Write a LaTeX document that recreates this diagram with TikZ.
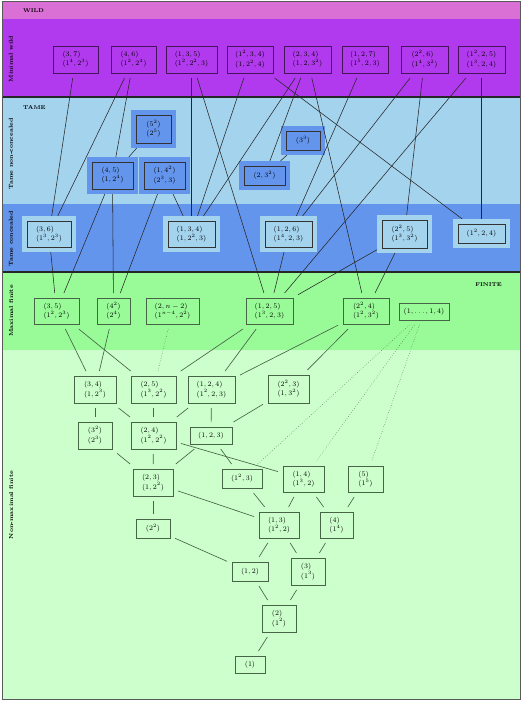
\documentclass[tikz,border=0pt]{standalone}
\definecolor{wpink}{RGB}{218,112,214}
\definecolor{wpurple}{RGB}{178,58,238}
\definecolor{tlight}{RGB}{164,211,238}
\definecolor{tblue}{RGB}{100,149,237}
\definecolor{fgreen}{RGB}{152,251,152}
\definecolor{flight}{RGB}{204,255,204}
\definecolor{fline}{RGB}{70,100,70}
\definecolor{wline}{RGB}{70,20,90}
\begin{document}
\begin{tikzpicture}[x=1pt,y=-1pt,
  base/.style={rectangle, inner sep=0pt, outer sep=5pt, align=left, font=\fontsize{6.8}{9.5}\selectfont, line width=0.7pt},
  wbox/.style={base, draw=wline, fill=wpurple},
  tnbox/.style={base, draw=black!80, fill=tblue, preaction={draw=tblue, fill=tblue, line width=10pt}},
  tcbox/.style={base, draw=black!80, fill=tlight, preaction={draw=tlight, fill=tlight, line width=10pt}},
  fbox/.style={base, draw=fline},
  tedge/.style={draw=black!85, line width=0.55pt},
  fedge/.style={draw=fline, line width=0.65pt},
  dedge/.style={draw=fline, line width=0.5pt, dotted},
  lab/.style={inner sep=0pt, font=\bfseries\fontsize{5.5}{6}\selectfont},
  vlab/.style={inner sep=0pt, rotate=90, font=\bfseries\fontsize{5.8}{6}\selectfont}
]
\useasboundingbox (0,0) rectangle (524,703);
% bands
\fill[wpink] (2.5,1.5) rectangle (520,19);
\fill[wpurple] (2.5,19) rectangle (520,97);
\fill[tlight] (2.5,97) rectangle (520,204);
\fill[tblue] (2.5,204) rectangle (520,272);
\fill[fgreen] (2.5,272) rectangle (520,350);
\fill[flight] (2.5,350) rectangle (520,699.5);
\draw[line width=1.2pt, black!85] (2.5,97) -- (520,97);
\draw[line width=1.2pt, black!85] (2.5,272) -- (520,272);
\draw[gray!70!black, line width=0.6pt] (2.5,1.5) rectangle (520,699.5);
% labels
\node[lab, anchor=west] (lwild) at (23,11) {WILD};
\node[lab, anchor=west] (ltame) at (23,108) {TAME};
\node[lab, anchor=east] (lfin) at (502,285) {FINITE};
\node[vlab] (lmw) at (11,59) {Minimal wild};
\node[vlab] (ltn) at (11,154) {Tame non-concealed};
\node[vlab] (ltc) at (11,239) {Tame concealed};
\node[vlab] (lmf) at (11,311) {Maximal finite};
\node[vlab] (lnf) at (11,505) {Non-maximal finite};
% minimal wild
\node[wbox, minimum width=45, minimum height=27] (n37) at (75.5,59.5) {$(3,7)$\\$(1^4,2^3)$};
\node[wbox, minimum width=45, minimum height=27] (n46) at (133.5,59.5) {$(4,6)$\\$(1^2,2^4)$};
\node[wbox, minimum width=51, minimum height=27] (n135) at (191.5,59.5) {$(1,3,5)$\\$(1^2,2^2,3)$};
\node[wbox, minimum width=46, minimum height=27] (n1234) at (250,59.5) {$(1^2,3,4)$\\$(1,2^2,4)$};
\node[wbox, minimum width=47, minimum height=27] (n234) at (307.5,59.5) {$(2,3,4)$\\$(1,2,3^2)$};
\node[wbox, minimum width=46, minimum height=27] (n127) at (365,59.5) {$(1,2,7)$\\$(1^5,2,3)$};
\node[wbox, minimum width=47, minimum height=27] (n226) at (424.5,59.5) {$(2^2,6)$\\$(1^4,3^2)$};
\node[wbox, minimum width=47, minimum height=27] (n1225) at (481.5,59.5) {$(1^2,2,5)$\\$(1^3,2,4)$};
% tame non-concealed
\node[tnbox, minimum width=35, minimum height=28] (n55) at (153.5,129) {$(5^2)$\\$(2^5)$};
\node[tnbox, minimum width=41, minimum height=27] (n45) at (112.5,175.5) {$(4,5)$\\$(1,2^4)$};
\node[tnbox, minimum width=41, minimum height=27] (n144) at (164.5,175.5) {$(1,4^2)$\\$(2^3,3)$};
\node[tnbox, minimum width=34, minimum height=19] (n333) at (303,140.5) {$(3^3)$};
\node[tnbox, minimum width=41, minimum height=19] (n233) at (264.5,175.5) {$(2,3^2)$};
% tame concealed
\node[tcbox, minimum width=44, minimum height=26] (n36) at (49,234) {$(3,6)$\\$(1^3,2^3)$};
\node[tcbox, minimum width=47, minimum height=26] (n134) at (191.5,234) {$(1,3,4)$\\$(1,2^2,3)$};
\node[tcbox, minimum width=47, minimum height=26] (n126) at (288.5,234) {$(1,2,6)$\\$(1^4,2,3)$};
\node[tcbox, minimum width=45, minimum height=28] (n225) at (404.5,234) {$(2^2,5)$\\$(1^3,3^2)$};
\node[tcbox, minimum width=47, minimum height=19] (n124) at (481.5,233.5) {$(1^2,2,4)$};
% maximal finite
\node[fbox, minimum width=45, minimum height=26] (n35) at (56.5,311) {$(3,5)$\\$(1^2,2^3)$};
\node[fbox, minimum width=33, minimum height=26] (n44) at (113.5,311) {$(4^2)$\\$(2^4)$};
\node[fbox, minimum width=53, minimum height=26] (n2n) at (172.5,311) {$(2,n-2)$\\$(1^{n-4},2^2)$};
\node[fbox, minimum width=47, minimum height=26] (n125) at (269.5,311) {$(1,2,5)$\\$(1^3,2,3)$};
\node[fbox, minimum width=46, minimum height=26] (n224) at (366,311) {$(2^2,4)$\\$(1^2,3^2)$};
\node[fbox, minimum width=50, minimum height=17] (n1114) at (424,311.5) {$(1,\ldots,1,4)$};
% non-maximal finite
\node[fbox, minimum width=42, minimum height=27] (n34) at (95,389.5) {$(3,4)$\\$(1,2^3)$};
\node[fbox, minimum width=45, minimum height=27] (n25) at (153.5,389.5) {$(2,5)$\\$(1^3,2^2)$};
\node[fbox, minimum width=47, minimum height=27] (n124f) at (211.5,389.5) {$(1,2,4)$\\$(1^2,2,3)$};
\node[fbox, minimum width=41, minimum height=28] (n223) at (288.5,389) {$(2^2,3)$\\$(1,3^2)$};
\node[fbox, minimum width=34, minimum height=27] (n32) at (95,435.5) {$(3^2)$\\$(2^3)$};
\node[fbox, minimum width=45, minimum height=27] (n24) at (153.5,435.5) {$(2,4)$\\$(1^2,2^2)$};
\node[fbox, minimum width=42, minimum height=17] (n123) at (211,435.5) {$(1,2,3)$};
\node[fbox, minimum width=40, minimum height=27] (n23) at (153,482.5) {$(2,3)$\\$(1,2^2)$};
\node[fbox, minimum width=40, minimum height=19] (n123b) at (242,478.5) {$(1^2,3)$};
\node[fbox, minimum width=41, minimum height=26] (n14) at (303.5,479) {$(1,4)$\\$(1^3,2)$};
\node[fbox, minimum width=35, minimum height=26] (n5) at (365.5,479) {$(5)$\\$(1^5)$};
\node[fbox, minimum width=34, minimum height=19] (n22) at (153,528.5) {$(2^2)$};
\node[fbox, minimum width=40, minimum height=26] (n13) at (279,525) {$(1,3)$\\$(1^2,2)$};
\node[fbox, minimum width=33, minimum height=26] (n4) at (336.5,525) {$(4)$\\$(1^4)$};
\node[fbox, minimum width=36, minimum height=19] (n12) at (250,571.5) {$(1,2)$};
\node[fbox, minimum width=34, minimum height=27] (n3) at (308,571.5) {$(3)$\\$(1^3)$};
\node[fbox, minimum width=34, minimum height=27] (n2) at (279,618.5) {$(2)$\\$(1^2)$};
\node[fbox, minimum width=30, minimum height=17] (n1) at (250,664.5) {$(1)$};
% upper edges
\draw[tedge] (n37) -- (n36);
\draw[tedge] (n46) -- (n36);
\draw[tedge] (n46) -- (n45);
\draw[tedge] (n135) -- (n134);
\draw[tedge] (n135) -- (n125);
\draw[tedge] (n1234) -- (n134);
\draw[tedge] (n1234) -- (n124);
\draw[tedge] (n234) -- (n134);
\draw[tedge] (n234) -- (n233);
\draw[tedge] (n234) -- (n224);
\draw[tedge] (n127) -- (n126);
\draw[tedge] (n226) -- (n126);
\draw[tedge] (n226) -- (n225);
\draw[tedge] (n1225) -- (n125);
\draw[tedge] (n1225) -- (n124);
\draw[tedge] (n55) -- (n45);
\draw[tedge] (n333) -- (n233);
\draw[tedge] (n45) -- (n35);
\draw[tedge] (n45) -- (n44);
\draw[tedge] (n144) -- (n44);
\draw[tedge] (n144) -- (n134);
\draw[tedge] (n36) -- (n35);
\draw[tedge] (n126) -- (n125);
\draw[tedge] (n225) -- (n125);
\draw[tedge] (n225) -- (n224);
% finite edges
\draw[fedge] (n35) -- (n34);
\draw[fedge] (n35) -- (n25);
\draw[fedge] (n44) -- (n34);
\draw[dedge] (n2n) -- (n25);
\draw[fedge] (n125) -- (n25);
\draw[fedge] (n125) -- (n124f);
\draw[fedge] (n224) -- (n124f);
\draw[fedge] (n224) -- (n223);
\draw[dedge] (n1114) -- (n123b);
\draw[dedge] (n1114) -- (n14);
\draw[dedge] (n1114) -- (n5);
\draw[fedge] (n34) -- (n32);
\draw[fedge] (n34) -- (n24);
\draw[fedge] (n25) -- (n24);
\draw[fedge] (n124f) -- (n24);
\draw[fedge] (n124f) -- (n123);
\draw[fedge] (n223) -- (n123);
\draw[fedge] (n32) -- (n23);
\draw[fedge] (n24) -- (n23);
\draw[fedge] (n123) -- (n23);
\draw[fedge] (n123) -- (n123b);
\draw[fedge] (n24) -- (n14);
\draw[fedge] (n23) -- (n22);
\draw[fedge] (n23) -- (n13);
\draw[fedge] (n123b) -- (n13);
\draw[fedge] (n14) -- (n13);
\draw[fedge] (n14) -- (n4);
\draw[fedge] (n5) -- (n4);
\draw[fedge] (n22) -- (n12);
\draw[fedge] (n13) -- (n12);
\draw[fedge] (n13) -- (n3);
\draw[fedge] (n4) -- (n3);
\draw[fedge] (n12) -- (n2);
\draw[fedge] (n3) -- (n2);
\draw[fedge] (n2) -- (n1);
\end{tikzpicture}
\end{document}
